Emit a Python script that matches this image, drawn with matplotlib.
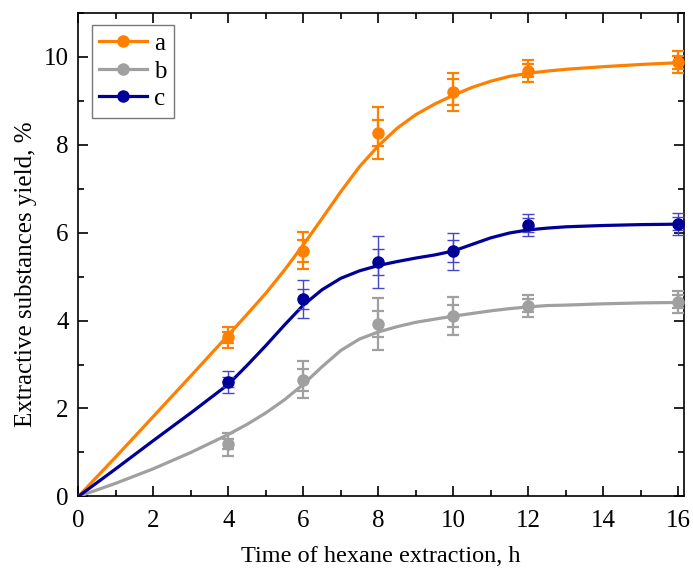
import matplotlib
matplotlib.use("Agg")
import matplotlib.pyplot as plt
from matplotlib.ticker import MultipleLocator

# -- DATA --
t_pts = [4, 6, 8, 10, 12, 16]

a_pts = [3.62, 5.59, 8.26, 9.2, 9.68, 9.87]
b_pts = [1.19, 2.65, 3.92, 4.1, 4.34, 4.43]
c_pts = [2.6, 4.49, 5.33, 5.57, 6.17, 6.2]

a_err = [0.24, 0.43, 0.6, 0.43, 0.25, 0.25]
b_err = [0.26, 0.42, 0.59, 0.43, 0.25, 0.25]
c_err = [0.25, 0.43, 0.59, 0.42, 0.25, 0.25]

# smaller inner bars drawn on top of the outer ones
a_err2 = [0.12, 0.25, 0.3, 0.3, 0.15, 0.15]
b_err2 = [0.12, 0.25, 0.29, 0.25, 0.15, 0.15]
c_err2 = [0.12, 0.22, 0.29, 0.25, 0.15, 0.15]

# fitted curves
t_fit = [0, 1, 2, 3, 4, 4.5, 5, 5.5, 6, 6.5, 7, 7.5, 8, 8.5, 9, 9.5, 10,
         10.5, 11, 11.5, 12, 12.5, 13, 14, 15, 16]
a_fit = [0, 0.9, 1.82, 2.74, 3.67, 4.14, 4.62, 5.15, 5.72, 6.32, 6.93, 7.5,
         7.97, 8.37, 8.68, 8.92, 9.12, 9.3, 9.44, 9.55, 9.62, 9.67, 9.71,
         9.77, 9.82, 9.86]
b_fit = [0, 0.3, 0.63, 1.0, 1.41, 1.64, 1.9, 2.2, 2.55, 2.95, 3.32, 3.58,
         3.74, 3.86, 3.96, 4.03, 4.1, 4.16, 4.22, 4.27, 4.31, 4.34, 4.35,
         4.38, 4.4, 4.41]
c_fit = [0, 0.63, 1.27, 1.9, 2.55, 2.98, 3.43, 3.9, 4.35, 4.7, 4.96, 5.13,
         5.25, 5.34, 5.42, 5.49, 5.58, 5.73, 5.88, 5.99, 6.06, 6.1, 6.13,
         6.16, 6.18, 6.19]

labels = ["a", "b", "c"]
# -- -- -- --

col_a = "#ff8000"
col_b = "#a0a0a0"
col_c = "#000099"

plt.rcParams['font.family'] = ['Liberation Serif', 'DejaVu Serif']
plt.rcParams['font.size'] = 18

fig = plt.figure(figsize=(6.93, 5.71), dpi=100)
ax = fig.add_axes([0.113, 0.1305, 0.874, 0.8475])

series = [
    (a_pts, a_err, a_err2, a_fit, col_a, col_a, 1.6),
    (b_pts, b_err, b_err2, b_fit, col_b, col_b, 1.6),
    (c_pts, c_err, c_err2, c_fit, col_c, "#4646c8", 1.0),
]

for (pts, err, err2, fit, col, ecol, elw), lab in zip(series, labels):
    ax.plot(t_fit, fit, color=col, lw=2.3, zorder=3, solid_joinstyle='round')
    ax.errorbar(t_pts, pts, yerr=err, fmt='none', ecolor=ecol, elinewidth=elw,
                capsize=4, capthick=elw, zorder=4)
    ax.errorbar(t_pts, pts, yerr=err2, fmt='none', ecolor=ecol, elinewidth=elw,
                capsize=4, capthick=elw, zorder=4)
    ax.plot(t_pts, pts, 'o', color=col, ms=8, zorder=5)
    ax.plot([], [], '-o', color=col, lw=2.3, ms=8, label=lab)

ax.set_xlim(0, 16.15)
ax.set_ylim(0, 11)
ax.xaxis.set_major_locator(MultipleLocator(2))
ax.xaxis.set_minor_locator(MultipleLocator(1))
ax.yaxis.set_major_locator(MultipleLocator(2))
ax.yaxis.set_minor_locator(MultipleLocator(1))
ax.tick_params(which='both', direction='in', top=True, right=True, width=1.2)
ax.tick_params(which='major', length=7, labelsize=18)
ax.tick_params(axis='y', which='major', pad=7)
ax.tick_params(axis='x', which='major', pad=10)
ax.tick_params(which='minor', length=4)
for s in ax.spines.values():
    s.set_linewidth(1.2)

ax.set_xlabel("Time of hexane extraction, h", fontsize=17.5, labelpad=10)
ax.set_ylabel("Extractive substances yield, %", fontsize=18)
ax.yaxis.set_label_coords(-0.069, 0.46)

leg = ax.legend(loc='upper left', bbox_to_anchor=(0.0226, 0.974), fancybox=False,
                edgecolor='#555555', fontsize=18, handlelength=1.9,
                borderaxespad=0, borderpad=0.3, handletextpad=0.3,
                labelspacing=0.2)
leg.get_frame().set_linewidth(1.0)

fig.savefig("out.png", dpi=100)
